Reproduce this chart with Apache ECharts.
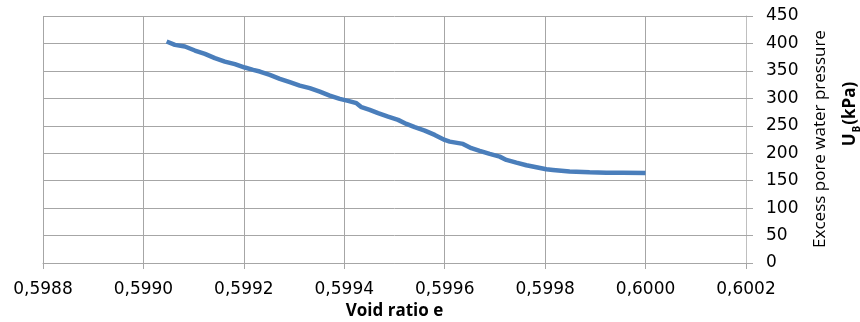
<!DOCTYPE html>
<html>
<head>
<meta charset="utf-8">
<script src="https://cdn.jsdelivr.net/npm/echarts@6/dist/echarts.min.js"></script>
<style>
  html, body { margin: 0; padding: 0; background: #fff; }
  #chart { width: 860px; height: 322px; }
</style>
</head>
<body>
<div id="chart"></div>
<script>
// Void ratio e versus excess pore water pressure U_B (kPa)
const voidRatio = [
  0.5990462, 0.5990627, 0.5990826, 0.5991025, 0.5991224, 0.5991423, 0.5991622,
  0.5991821, 0.5992020, 0.5992185, 0.5992318, 0.5992517, 0.5992716, 0.5992915,
  0.5993114, 0.5993313, 0.5993512, 0.5993711, 0.5993910, 0.5994076, 0.5994243,
  0.5994342, 0.5994507, 0.5994673, 0.5994872, 0.5995071, 0.5995238, 0.5995403,
  0.5995602, 0.5995801, 0.5996000, 0.5996100, 0.5996364, 0.5996531, 0.5996697,
  0.5996896, 0.5997095, 0.5997228, 0.5997427, 0.5997626, 0.5997825, 0.5998024,
  0.5998155, 0.5998488, 0.5998886, 0.5999218, 0.5999548, 0.6000000
];
const porePressure = [
  403.5, 397.4, 394.4, 387.1, 381.0, 373.2, 367.0,
  362.3, 356.1, 351.9, 348.8, 342.8, 335.5, 329.4,
  323.2, 318.5, 312.3, 305.0, 299.0, 295.4, 291.2,
  283.9, 278.9, 272.9, 266.7, 260.7, 253.4, 247.4,
  241.2, 233.4, 224.2, 221.1, 217.0, 209.1, 204.2,
  198.7, 193.8, 187.8, 182.9, 178.1, 174.5, 170.8,
  169.6, 166.5, 165.4, 164.6, 164.6, 164.1
];
const xName = 'Void ratio e';
const yNameTop = 'Excess pore water pressure';
const yNameUnit = '{b|U}{s|B}{b|(kPa)}';

const points = voidRatio.map((e, i) => [e, porePressure[i]]);

const font = 'Open Sans';
const tickFont = 'DejaVu Sans';
const chart = echarts.init(document.getElementById('chart'), null, { renderer: 'canvas' });
chart.setOption({
  animation: false,
  backgroundColor: '#ffffff',
  grid: { left: 43, right: 114, top: 16, bottom: 59, containLabel: false, outerBoundsMode: 'none' },
  // right-hand axis title, two rotated lines
  graphic: [
    {
      type: 'text', x: 820, y: 139, rotation: Math.PI / 2, silent: true,
      style: {
        text: yNameTop, fill: '#000',
        font: '17px "Open Sans"', align: 'center', verticalAlign: 'middle'
      }
    },
    {
      type: 'text', x: 848, y: 114, rotation: Math.PI / 2, silent: true,
      style: {
        text: yNameUnit, fill: '#000', align: 'center', verticalAlign: 'middle',
        rich: {
          b: { fontFamily: font, fontSize: 17, fontWeight: 'bold', fill: '#000', lineHeight: 22, verticalAlign: 'bottom' },
          s: { fontFamily: font, fontSize: 10, fontWeight: 'bold', fill: '#000', lineHeight: 22, verticalAlign: 'bottom', padding: [0, 1, -3, 1] }
        }
      }
    }
  ],
  xAxis: {
    type: 'value',
    min: 0.5988,
    max: 0.6002,
    interval: 0.0002,
    name: xName,
    nameLocation: 'middle',
    nameGap: 38,
    nameTextStyle: { fontFamily: font, fontWeight: 'bold', fontSize: 17, color: '#000' },
    axisLine: { show: true, lineStyle: { color: '#a6a6a6', width: 1 } },
    axisTick: { show: true, length: 6, lineStyle: { color: '#a6a6a6' } },
    axisLabel: {
      margin: 18,
      fontFamily: tickFont, fontSize: 17, color: '#000',
      formatter: v => v.toFixed(4).replace('.', ',')
    },
    splitLine: { show: true, lineStyle: { color: '#a6a6a6', width: 1 } }
  },
  yAxis: {
    type: 'value',
    position: 'right',
    min: 0,
    max: 450,
    interval: 50,
    axisLine: { show: true, lineStyle: { color: '#bfbfbf', width: 1 } },
    axisTick: { show: true, length: 7, lineStyle: { color: '#a6a6a6' } },
    axisLabel: { margin: 20, fontFamily: tickFont, fontSize: 17, color: '#000' },
    splitLine: { show: true, lineStyle: { color: '#a6a6a6', width: 1 } }
  },
  series: [{
    type: 'line',
    data: points,
    showSymbol: false,
    symbol: 'none',
    lineStyle: { color: '#4a7ebb', width: 4.5 },
    smooth: false
  }]
});
</script>
</body>
</html>
